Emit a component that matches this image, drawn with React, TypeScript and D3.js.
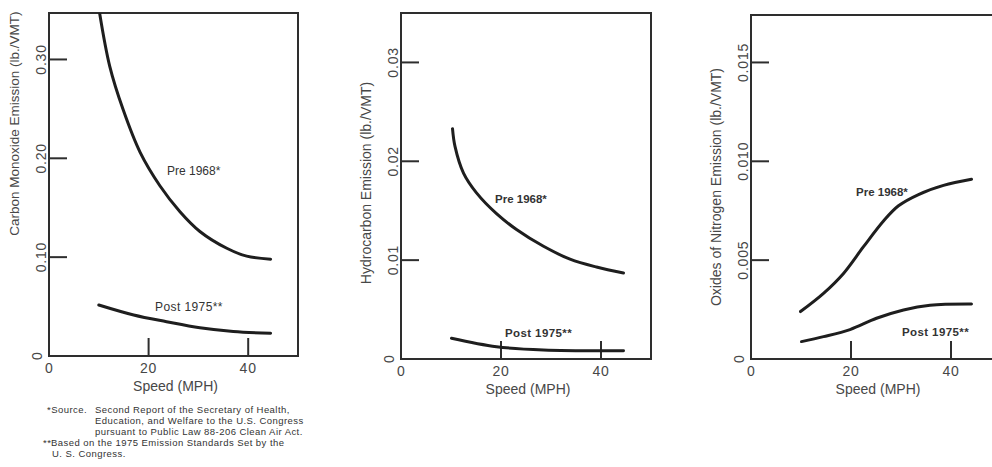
import * as d3 from 'd3';

// speed (MPH) sampled along each curve, emissions in lb./VMT
const coPreSpeed = [10, 12.2, 14.9, 18.3, 22.3, 26.3, 30.3, 35.7, 39.7, 44.5];
const coPre = [0.352, 0.293, 0.249, 0.206, 0.172, 0.146, 0.126, 0.109, 0.101, 0.098];
const coPostSpeed = [10, 17, 23.6, 30.3, 37, 44.5];
const coPost = [0.0516, 0.0415, 0.0347, 0.0285, 0.0248, 0.023];

const hcPreSpeed = [10.3, 10.8, 12.5, 15.1, 19.1, 23.1, 28.5, 33.8, 39.1, 44.5];
const hcPre = [0.0233, 0.0215, 0.0188, 0.0168, 0.0147, 0.0131, 0.0114, 0.0101, 0.0093, 0.0087];
const hcPostSpeed = [10.1, 19.1, 28.5, 44.5];
const hcPost = [0.0021, 0.00124, 0.00091, 0.00084];

const noPreSpeed = [9.9, 14.5, 18.5, 22.5, 26.5, 29.5, 33.5, 38.5, 44.1];
const noPre = [0.0024, 0.00332, 0.00433, 0.00568, 0.00698, 0.00775, 0.00832, 0.00878, 0.00909];
const noPostSpeed = [10.1, 14.5, 19.8, 25.1, 30.5, 35.8, 44.1];
const noPost = [0.00088, 0.00113, 0.00149, 0.00206, 0.00248, 0.00272, 0.00278];

const xTicks = [20, 40];
const coTicks = [0.1, 0.2, 0.3];
const coTickLabels = ['0.10', '0.20', '0.30'];
const hcTicks = [0.01, 0.02, 0.03];
const hcTickLabels = ['0.01', '0.02', '0.03'];
const noTicks = [0.005, 0.01, 0.015];
const noTickLabels = ['0.005', '0.010', '0.015'];

const footnotes = [
  { mark: '*Source.', text: 'Second Report of the Secretary of Health,', x: 95 },
  { mark: '', text: 'Education, and Welfare to the U.S. Congress', x: 95 },
  { mark: '', text: 'pursuant to Public Law 88-206 Clean Air Act.', x: 95 },
  { mark: '**', text: 'Based on the 1975 Emission Standards Set by the', x: 51 },
  { mark: '', text: 'U. S. Congress.', x: 52 },
];

const FONT = 'Liberation Sans, Arial, sans-serif';
const INK = '#1e1e1e';
const TXT = '#474747';

const zip = (xs: number[], ys: number[]) => xs.map((x, i) => [x, ys[i]] as [number, number]);

const panels = [
  {
    id: 'co',
    left: 49, right: 298, top: 13, bottom: 356, yMax: 0.347,
    title: 'Carbon Monoxide Emission (lb./VMT)', titleY: 0.235, titleSize: 13.5,
    ticks: coTicks, tickLabels: coTickLabels,
    pre: zip(coPreSpeed, coPre), post: zip(coPostSpeed, coPost),
    preLabel: [23.7, 0.183], postLabel: [21.3, 0.0455], bold: false,
  },
  {
    id: 'hc',
    left: 401, right: 651, top: 13, bottom: 359, yMax: 0.035,
    title: 'Hydrocarbon Emission (lb./VMT)', titleY: 0.0178, titleSize: 14,
    ticks: hcTicks, tickLabels: hcTickLabels,
    pre: zip(hcPreSpeed, hcPre), post: zip(hcPostSpeed, hcPost),
    preLabel: [18.8, 0.0158], postLabel: [20.8, 0.00223], bold: true,
  },
  {
    id: 'no',
    left: 751, right: 1001, top: 15, bottom: 359, yMax: 0.0174,
    title: 'Oxides of Nitrogen Emission (lb./VMT)', titleY: 0.0087, titleSize: 14,
    ticks: noTicks, tickLabels: noTickLabels,
    pre: zip(noPreSpeed, noPre), post: zip(noPostSpeed, noPost),
    preLabel: [21, 0.00824], postLabel: [30.2, 0.00116], bold: true,
  },
];

function Panel({ p }: { p: (typeof panels)[number] }) {
  const x = d3.scaleLinear().domain([0, 50]).range([p.left, p.right]);
  const y = d3.scaleLinear().domain([0, p.yMax]).range([p.bottom, p.top]);
  const line = d3.line<[number, number]>()
    .x((d) => x(d[0]))
    .y((d) => y(d[1]))
    .curve(d3.curveCatmullRom.alpha(0.5));
  const tickLen = 18;
  const ty = y(p.titleY);
  const tx = p.left - 30;
  const labelSize = p.bold ? 11.5 : 12;
  return (
    <g>
      <defs>
        <clipPath id={`clip-${p.id}`}>
          <rect x={p.left} y={p.top} width={p.right - p.left} height={p.bottom - p.top} />
        </clipPath>
      </defs>
      <rect x={p.left} y={p.top} width={p.right - p.left} height={p.bottom - p.top}
        fill="none" stroke="#2e2e2e" strokeWidth={2} />
      {p.ticks.map((t, i) => (
        <g key={`y${i}`}>
          <line x1={p.left} x2={p.left + tickLen} y1={y(t)} y2={y(t)} stroke="#2e2e2e" strokeWidth={2} />
          <text transform={`translate(${p.left - 3},${y(t)}) rotate(-90)`} textAnchor="middle"
            fontSize={14} fill={TXT} letterSpacing={0.8}>{p.tickLabels[i]}</text>
        </g>
      ))}
      <text transform={`translate(${p.left - 7},${y(0)}) rotate(-90)`} textAnchor="middle"
        fontSize={14} fill={TXT}>0</text>
      {xTicks.map((t) => (
        <g key={`x${t}`}>
          <line x1={x(t)} x2={x(t)} y1={p.bottom} y2={p.bottom - tickLen} stroke="#2e2e2e" strokeWidth={2} />
          <text x={x(t)} y={p.bottom + 17} textAnchor="middle" fontSize={14} fill={TXT} letterSpacing={0.8}>{t}</text>
        </g>
      ))}
      <text x={x(0)} y={p.bottom + 17} textAnchor="middle" fontSize={14} fill={TXT}>0</text>
      <text x={(p.left + p.right) / 2 + 2} y={p.bottom + 35} textAnchor="middle" fontSize={14} fill={TXT}>
        Speed (MPH)
      </text>
      <text transform={`translate(${tx},${ty}) rotate(-90)`} textAnchor="middle"
        fontSize={p.titleSize} fill={TXT}>{p.title}</text>
      <g clipPath={`url(#clip-${p.id})`}>
        <path d={line(p.pre) ?? ''} fill="none" stroke={INK} strokeWidth={3} strokeLinecap="round" />
        <path d={line(p.post) ?? ''} fill="none" stroke={INK} strokeWidth={3} strokeLinecap="round" />
      </g>
      <text x={x(p.preLabel[0])} y={y(p.preLabel[1])} fontSize={labelSize}
        fontWeight={p.bold ? 'bold' : 'normal'} fill="#333">Pre 1968*</text>
      <text x={x(p.postLabel[0])} y={y(p.postLabel[1])} fontSize={labelSize}
        fontWeight={p.bold ? 'bold' : 'normal'} fill="#333" letterSpacing={0.4}>Post 1975**</text>
    </g>
  );
}

export default function App() {
  return (
    <svg width={992} height={467} style={{ position: 'absolute', left: 0, top: 0, background: '#fff' }}
      fontFamily={FONT}>
      {panels.map((p) => <Panel key={p.id} p={p} />)}
      <g fontSize={9.5} fill="#333" letterSpacing={0.45}>
        {footnotes.map((f, i) => (
          <g key={i}>
            {f.mark && <text x={i === 0 ? 47 : 43} y={413 + i * 11}>{f.mark}</text>}
            <text x={f.x} y={413 + i * 11}>{f.text}</text>
          </g>
        ))}
      </g>
    </svg>
  );
}
